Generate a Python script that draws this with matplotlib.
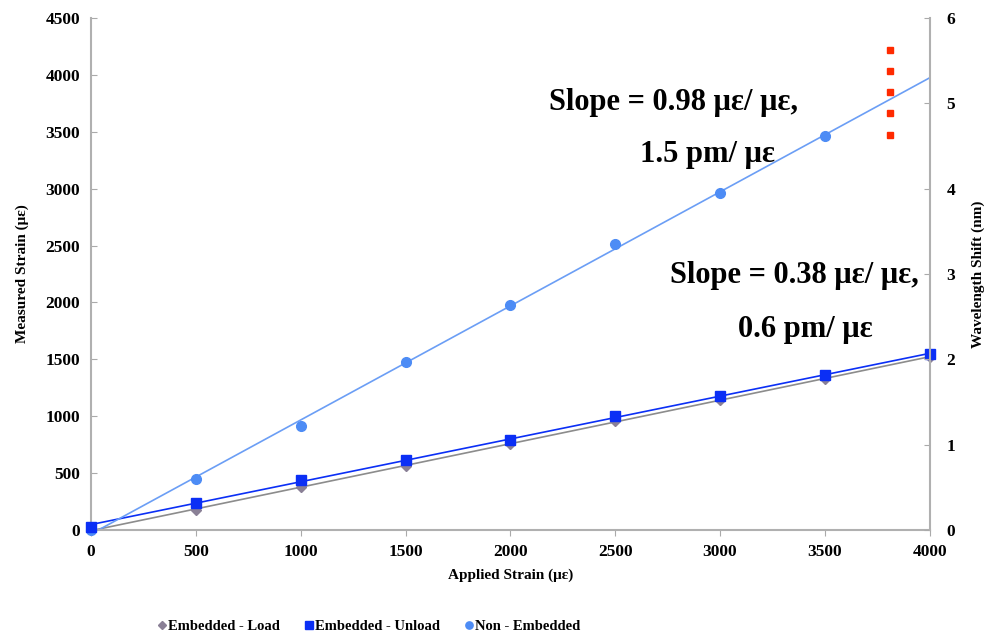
import numpy as np
import matplotlib
matplotlib.use("Agg")
import matplotlib.pyplot as plt

plt.rcParams['font.family'] = ['Liberation Serif', 'DejaVu Serif']
plt.rcParams['font.weight'] = 'bold'

applied = [0, 500, 1000, 1500, 2000, 2500, 3000, 3500, 4000]
embedded_load = [0, 175, 380, 560, 760, 960, 1140, 1330, 1520]
embedded_unload = [30, 240, 440, 615, 790, 1000, 1180, 1360, 1545]
applied_non = [0, 500, 1000, 1500, 2000, 2500, 3000, 3500]
non_embedded = [0, 450, 910, 1480, 1975, 2510, 2960, 3465]
dots_x = [3810, 3810, 3810, 3810, 3810]
dots_y = [4220, 4035, 3850, 3665, 3470]

fig = plt.figure(figsize=(9.9, 6.36), dpi=100)
ax = fig.add_axes([0.092, 0.1667, 0.847, 0.805])

c_load_m = '#8a8096'
c_load_l = '#8c8c8c'
c_unload = '#0b2ff5'
c_non = '#4d8cf5'
c_non_l = '#6b9ef5'

xx = np.array([0, 4000])
for xs, ys, col in [(applied, embedded_load, c_load_l), (applied, embedded_unload, c_unload), (applied_non, non_embedded, c_non_l)]:
    p = np.polyfit(xs, ys, 1)
    ax.plot(xx, np.polyval(p, xx), color=col, lw=1.2, zorder=2)

ax.plot(applied, embedded_load, 'D', color=c_load_m, ms=5.5, clip_on=False, zorder=3, label='Embedded - Load', linestyle='none')
ax.plot(applied, embedded_unload, 's', color=c_unload, ms=7, clip_on=False, zorder=4, label='Embedded - Unload', linestyle='none')
ax.plot(applied_non, non_embedded, 'o', color=c_non, ms=7, clip_on=False, zorder=3, label='Non - Embedded', linestyle='none')
ax.plot(dots_x, dots_y, 's', color='#ff2a00', ms=4, linestyle='none', zorder=3)

ax.set_xlim(0, 4000)
ax.set_ylim(0, 4500)
ax.set_xticks(range(0, 4001, 500))
ax.set_yticks(range(0, 4501, 500))
ax.tick_params(axis='y', direction='in', length=4, color='#aaaaaa', labelsize=12.5, pad=8)
ax.tick_params(axis='x', direction='out', length=4, color='#aaaaaa', labelsize=12.5, pad=6)
for s in ['left', 'bottom']:
    ax.spines[s].set_color('#b0b0b0')
    ax.spines[s].set_linewidth(1.5)
ax.spines['top'].set_visible(False)
ax.spines['right'].set_visible(False)
ax.set_xlabel('Applied Strain (με)', fontsize=11, fontweight='bold', labelpad=6)
ax.set_ylabel('Measured Strain (με)', fontsize=11, fontweight='bold', labelpad=12)

ax2 = ax.twinx()
ax2.set_ylim(0, 6)
ax2.set_yticks(range(0, 7))
ax2.tick_params(axis='y', direction='in', length=4, color='#aaaaaa', labelsize=12.5, pad=12)
ax2.spines['right'].set_color('#b0b0b0')
ax2.spines['right'].set_linewidth(1.5)
for s in ['left', 'bottom', 'top']:
    ax2.spines[s].set_visible(False)
ax2.set_ylabel('Wavelength Shift (nm)', fontsize=11, fontweight='bold', labelpad=12)

ax.text(2184, 3753, 'Slope = 0.98 με/ με,', fontsize=22, fontweight='bold', ha='left', va='center')
ax.text(2617, 3296, '1.5 pm/ με', fontsize=22, fontweight='bold', ha='left', va='center')
ax.text(2760, 2241, 'Slope = 0.38 με/ με,', fontsize=22, fontweight='bold', ha='left', va='center')
ax.text(3085, 1758, '0.6 pm/ με', fontsize=22, fontweight='bold', ha='left', va='center')

h, l = ax.get_legend_handles_labels()
fig.legend(h, l, loc='center', bbox_to_anchor=(0.373, 0.015), ncol=3, frameon=False,
           fontsize=10.5, handlelength=0.6, handletextpad=0.1, columnspacing=1.7, markerscale=0.75)

fig.savefig('out.png', dpi=100)
